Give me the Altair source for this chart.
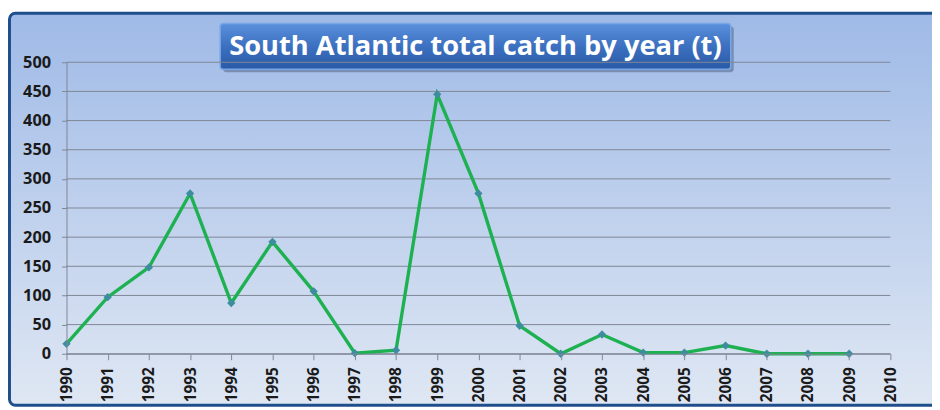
import altair as alt
import pandas as pd

years = [1990, 1991, 1992, 1993, 1994, 1995, 1996, 1997, 1998, 1999,
         2000, 2001, 2002, 2003, 2004, 2005, 2006, 2007, 2008, 2009]
catch = [17, 97, 148, 275, 87, 192, 107, 1, 6, 445,
         275, 48, 0, 33, 2, 2, 14, 0, 0, 0]
x_ticks = list(range(1990, 2011))
y_ticks = list(range(0, 501, 50))
title_text = "South Atlantic total catch by year (t)"

df = pd.DataFrame({"year": years, "catch": catch})
grid_df = pd.DataFrame({"catch": y_ticks})
one = pd.DataFrame({"a": [0]})

W, H = 831, 294
PL, PT, PR, PB = 59, 53, 42, 55
FONT = "Open Sans"

bg_grad = alt.Gradient(
    gradient="linear", x1=0, x2=0, y1=0, y2=1,
    stops=[alt.GradientStop(offset=0, color="#9fbae7"),
           alt.GradientStop(offset=1, color="#dfe7f3")],
)
title_grad = alt.Gradient(
    gradient="linear", x1=0, x2=0, y1=0, y2=1,
    stops=[alt.GradientStop(offset=0, color="#5a90dc"),
           alt.GradientStop(offset=0.5, color="#3c70c0"),
           alt.GradientStop(offset=1, color="#2a5aa6")],
)

background = alt.Chart(one).mark_rect(
    fill=bg_grad, stroke="#1f4e8c", strokeWidth=3, cornerRadius=6
).encode(
    x=alt.value(-57.5), x2=alt.value(W + 60),
    y=alt.value(-49.5), y2=alt.value(H + 52),
)

shadow = alt.Chart(one).mark_rect(
    fill="#203050", opacity=0.35, cornerRadius=3
).encode(
    x=alt.value(158), x2=alt.value(673),
    y=alt.value(-36), y2=alt.value(10),
)

title_box = alt.Chart(one).mark_rect(
    fill=title_grad, stroke="#7aa6e6", strokeWidth=1.5, cornerRadius=3
).encode(
    x=alt.value(155), x2=alt.value(670),
    y=alt.value(-39), y2=alt.value(7),
)

title_label = alt.Chart(one).mark_text(
    text=title_text, font="Open Sans", fontSize=27.5, fontWeight="bold",
    color="white", align="center", baseline="middle"
).encode(
    x=alt.value(412.5), y=alt.value(-15),
)

x_axis = alt.Axis(
    values=x_ticks, format="d", labelAngle=270, labelAlign="right",
    labelBaseline="middle", labelFontSize=15.5, labelFontWeight="bold",
    labelFont=FONT, labelColor="#1a1a1a", labelPadding=7,
    tickSize=6, tickColor="#7f8796", domainColor="#7f8796",
    grid=False, title=None, labelOverlap=False, zindex=1,
)
y_axis = alt.Axis(
    values=y_ticks, labelFontSize=16.5, labelFontWeight="bold",
    labelFont=FONT, labelColor="#1a1a1a", labelPadding=11,
    tickSize=5, tickColor="#7f8796", domainColor="#7f8796",
    grid=False, title=None, labelOverlap=False, zindex=1,
)
x_scale = alt.Scale(domain=[1990, 2010], nice=False, zero=False)
y_scale = alt.Scale(domain=[0, 500], nice=False)

grid = alt.Chart(grid_df).mark_rule(color="#7f8796", strokeWidth=1).encode(
    y=alt.Y("catch:Q", scale=y_scale, axis=y_axis),
    x=alt.value(0), x2=alt.value(W),
)

line = alt.Chart(df).mark_line(color="#1db152", strokeWidth=3.4).encode(
    x=alt.X("year:Q", scale=x_scale, axis=x_axis),
    y=alt.Y("catch:Q", scale=y_scale, axis=y_axis),
)
points = alt.Chart(df).mark_point(
    shape="diamond", filled=True, color="#3d8d9f", size=70, opacity=1
).encode(
    x=alt.X("year:Q", scale=x_scale, axis=x_axis),
    y=alt.Y("catch:Q", scale=y_scale, axis=y_axis),
)

chart = alt.layer(background, shadow, title_box, title_label, grid, line, points).properties(
    width=W, height=H,
    padding={"left": PL, "top": PT, "right": PR, "bottom": PB},
    autosize=alt.AutoSizeParams(type="none"),
).configure_view(stroke=None, fill=None).configure(background="white")

chart.save("out.html", embed_options={"renderer": "svg", "actions": False})
